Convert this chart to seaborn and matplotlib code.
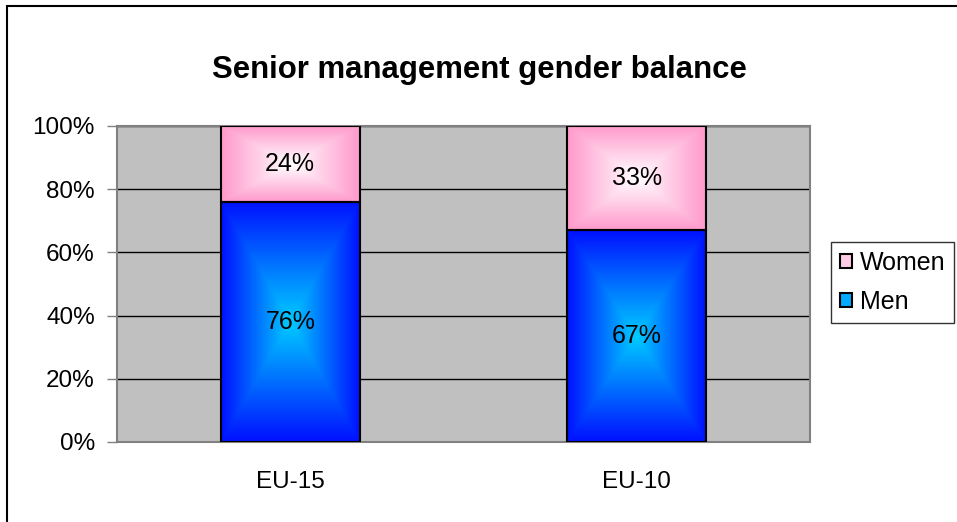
import numpy as np
import pandas as pd
import matplotlib
matplotlib.use("Agg")
import matplotlib.pyplot as plt
import seaborn as sns
from matplotlib.patches import Rectangle, Patch

# data
regions = ["EU-15", "EU-10"]
men_pct = [76, 67]
women_pct = [24, 33]
y_ticks = [0, 20, 40, 60, 80, 100]

sns.set_style("white")
plt.rcParams["font.family"] = ["Liberation Sans", "DejaVu Sans"]
plt.rcParams["text.color"] = "black"
plt.rcParams["xtick.color"] = "black"
plt.rcParams["ytick.color"] = "black"

df = pd.DataFrame({"region": regions, "men": men_pct, "women": women_pct})

fig = plt.figure(figsize=(9.57, 5.22), dpi=100)
ax = fig.add_axes([117 / 957, 1 - 442 / 522, (810 - 117) / 957, (442 - 126) / 522])
ax.set_facecolor("#C0C0C0")

# men at the bottom, women stacked on top
sns.barplot(data=df, x="region", y="men", order=regions, width=0.4,
            color="#0010FF", edgecolor="black", linewidth=1.5, ax=ax)
sns.barplot(data=df, x="region", y="women", order=regions, width=0.4,
            bottom=df["men"].values, color="#FF99CC", edgecolor="black",
            linewidth=1.5, ax=ax)


def rect_gradient(center, edge, n=200):
    u = np.linspace(-1, 1, n)
    uu, vv = np.meshgrid(u, u)
    t = np.maximum(np.abs(uu), np.abs(vv))[..., None]
    c0 = np.array(center) / 255.0
    c1 = np.array(edge) / 255.0
    return c0 * (1 - t) + c1 * t


men_grad = rect_gradient((0, 204, 255), (0, 16, 255))
women_grad = rect_gradient((255, 255, 255), (255, 153, 204))

bars = list(ax.patches)
for i, p in enumerate(bars):
    grad = men_grad if i < len(regions) else women_grad
    x0, y0 = p.get_x(), p.get_y()
    w, h = p.get_width(), p.get_height()
    im = ax.imshow(grad, extent=(x0, x0 + w, y0, y0 + h), aspect="auto",
                   origin="lower", zorder=2.5, interpolation="bilinear")
    im.set_clip_path(p)
    p.set_facecolor("none")
    p.set_zorder(3)

# value labels
for i in range(len(regions)):
    ax.text(i, men_pct[i] / 2, f"{men_pct[i]}%", ha="center", va="center",
            fontsize=18, zorder=4)
    ax.text(i, men_pct[i] + women_pct[i] / 2, f"{women_pct[i]}%",
            ha="center", va="center", fontsize=18, zorder=4)

ax.set_xlim(-0.5, 1.5)
ax.set_ylim(0, 100)
ax.set_yticks(y_ticks)
ax.set_yticklabels([f"{v}%" for v in y_ticks], fontsize=17.5)
ax.set_xticks(range(len(regions)))
ax.set_xticklabels(regions, fontsize=17.5)
ax.set_xticks([-0.5, 0.5, 1.5], minor=True)
ax.set_xlabel("")
ax.set_ylabel("")
ax.set_axisbelow(True)
ax.yaxis.grid(True, color="black", linewidth=1)
ax.xaxis.grid(False)
ax.tick_params(axis="x", which="major", length=0, pad=21)
ax.tick_params(axis="x", which="minor", length=7, width=1, color="#808080", direction="out")
ax.tick_params(axis="y", length=7, width=1, color="#808080", direction="out", pad=9, left=True)
for s in ax.spines.values():
    s.set_color("#808080")
    s.set_linewidth(1.5)

fig.text(479 / 957, 1 - 70 / 522, "Senior management gender balance",
         ha="center", va="center", fontsize=22.4, fontweight="bold")

handles = [Patch(facecolor="#FFCCE5", edgecolor="black", linewidth=1.5, label="Women"),
           Patch(facecolor="#00AAFF", edgecolor="black", linewidth=1.5, label="Men")]
leg = fig.legend(handles=handles, loc="upper left",
                 bbox_to_anchor=(831 / 957, 1 - 242 / 522), fontsize=18,
                 frameon=True, fancybox=False, edgecolor="black",
                 handlelength=0.5, handleheight=0.5, handletextpad=0.3,
                 borderpad=0.35, labelspacing=0.6, borderaxespad=0)
leg.get_frame().set_linewidth(1)

# outer chart border
fig.add_artist(Rectangle((7 / 957, -0.1), 1.2, 1.1 - 6 / 522, transform=fig.transFigure,
                         fill=False, edgecolor="black", linewidth=1.5))

fig.savefig("out.png", dpi=100)
